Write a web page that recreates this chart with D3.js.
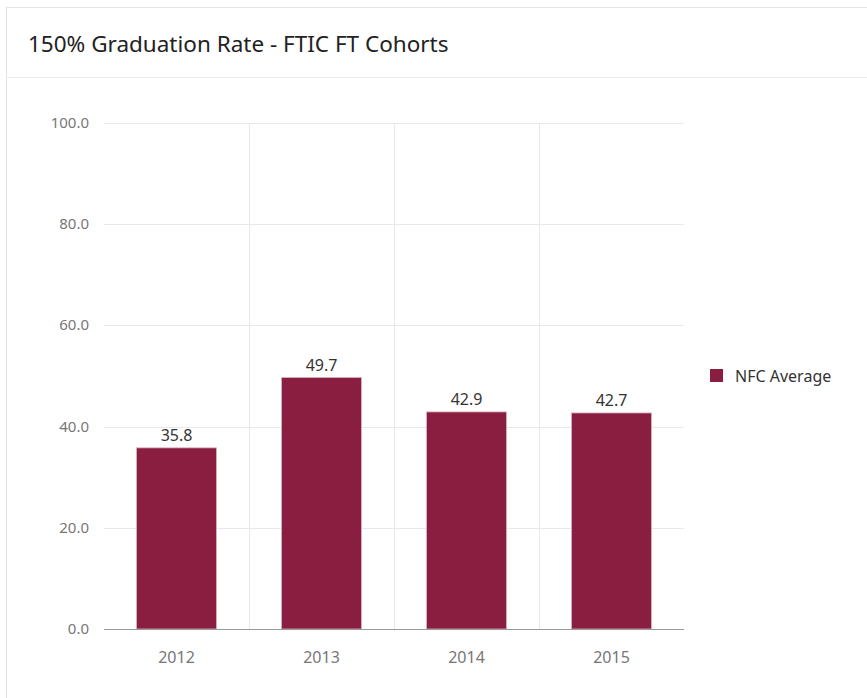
<!DOCTYPE html>
<html>
<head>
<meta charset="utf-8">
<script src="https://cdn.jsdelivr.net/npm/d3@7"></script>
<style>
  body { margin: 0; background: #ffffff; font-family: "Noto Sans", "Open Sans", sans-serif; }
</style>
</head>
<body>
<div id="chart"></div>
<script>
// chart data
var years = ["2012", "2013", "2014", "2015"];
var nfcAverage = [35.8, 49.7, 42.9, 42.7];
var yTicks = [0, 20, 40, 60, 80, 100];
var seriesName = "NFC Average";
var chartTitle = "150% Graduation Rate - FTIC FT Cohorts";

var svgWidth = 867;
var svgHeight = 698;
var margin = { top: 123, right: 183, bottom: 69, left: 104 };
var chartWidth = svgWidth - margin.left - margin.right;
var chartHeight = svgHeight - margin.top - margin.bottom;
var barColor = "#8a1e41";

var svg = d3.select("#chart")
  .append("svg")
  .attr("width", svgWidth)
  .attr("height", svgHeight);

// card frame
svg.append("rect")
  .attr("x", 6.5).attr("y", 7.5)
  .attr("width", svgWidth).attr("height", svgHeight)
  .attr("fill", "#fff")
  .attr("stroke", "#e3e3e3");

svg.append("line")
  .attr("x1", 7).attr("x2", svgWidth)
  .attr("y1", 77.5).attr("y2", 77.5)
  .attr("stroke", "#ececec");

svg.append("text")
  .attr("x", 28)
  .attr("y", 52)
  .style("font-size", "22.5px")
  .style("fill", "#222")
  .text(chartTitle);

var chart = svg.append("g")
  .attr("transform", "translate(" + margin.left + "," + margin.top + ")");

var x = d3.scaleBand()
  .domain(years)
  .range([0, chartWidth]);

var y = d3.scaleLinear()
  .domain([0, 100])
  .range([chartHeight, 0]);

var barWidth = 80;

// horizontal grid
chart.selectAll(".hgrid")
  .data(yTicks)
  .enter()
  .append("line")
  .attr("x1", 0).attr("x2", chartWidth)
  .attr("y1", function(d) { return Math.round(y(d)) + 0.5; })
  .attr("y2", function(d) { return Math.round(y(d)) + 0.5; })
  .attr("stroke", "#e6e8ee");

// vertical grid between categories
chart.selectAll(".vgrid")
  .data(years.slice(1))
  .enter()
  .append("line")
  .attr("x1", function(d) { return Math.round(x(d)) + 0.5; })
  .attr("x2", function(d) { return Math.round(x(d)) + 0.5; })
  .attr("y1", 0).attr("y2", chartHeight)
  .attr("stroke", "#e6e8ee");

// y labels
chart.selectAll(".ylab")
  .data(yTicks)
  .enter()
  .append("text")
  .attr("x", -15)
  .attr("y", function(d) { return y(d) + 5; })
  .attr("text-anchor", "end")
  .style("font-size", "15px")
  .style("fill", "#777")
  .text(function(d) { return d.toFixed(1); });

// bars
chart.selectAll(".bar")
  .data(nfcAverage)
  .enter()
  .append("rect")
  .attr("class", "bar")
  .attr("x", function(d, i) { return x(years[i]) + x.bandwidth() / 2 - barWidth / 2; })
  .attr("y", function(d) { return y(d); })
  .attr("width", barWidth)
  .attr("height", function(d) { return chartHeight - y(d); })
  .attr("fill", barColor)
  .attr("stroke", "#d9b3c0")
  .attr("stroke-width", 0.8);

// value labels
chart.selectAll(".val")
  .data(nfcAverage)
  .enter()
  .append("text")
  .attr("x", function(d, i) { return x(years[i]) + x.bandwidth() / 2; })
  .attr("y", function(d) { return y(d) - 7; })
  .attr("text-anchor", "middle")
  .style("font-size", "16px")
  .style("fill", "#333")
  .text(function(d) { return d.toFixed(1); });

// x axis line
chart.append("line")
  .attr("x1", 0).attr("x2", chartWidth)
  .attr("y1", chartHeight + 0.5).attr("y2", chartHeight + 0.5)
  .attr("stroke", "#999");

// x labels
chart.selectAll(".xlab")
  .data(years)
  .enter()
  .append("text")
  .attr("x", function(d) { return x(d) + x.bandwidth() / 2; })
  .attr("y", chartHeight + 34)
  .attr("text-anchor", "middle")
  .style("font-size", "16px")
  .style("fill", "#777")
  .text(function(d) { return d; });

// legend
var legend = svg.append("g").attr("transform", "translate(710,369)");
legend.append("rect")
  .attr("width", 13).attr("height", 13)
  .attr("fill", barColor);
legend.append("text")
  .attr("x", 25).attr("y", 13)
  .style("font-size", "16px")
  .style("fill", "#333")
  .text(seriesName);
</script>
</body>
</html>
